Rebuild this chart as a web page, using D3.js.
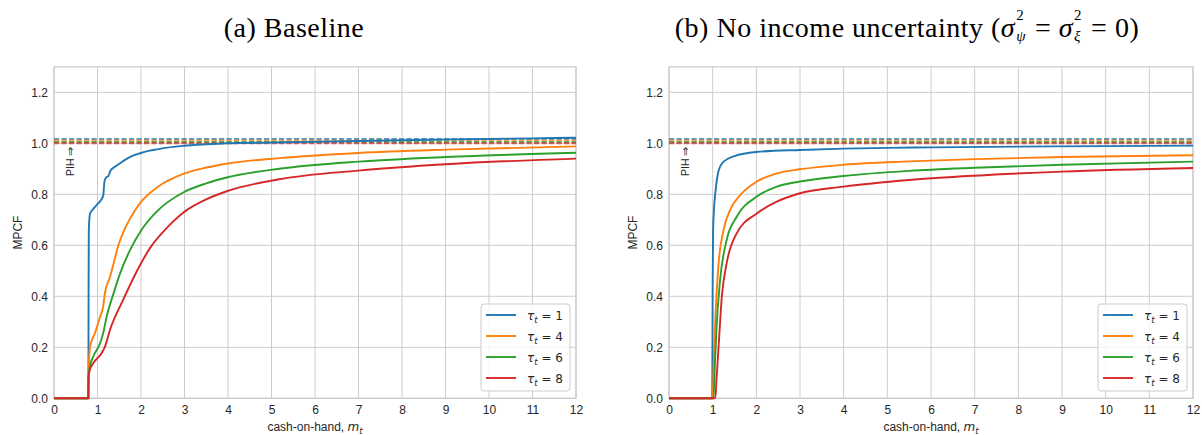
<!DOCTYPE html>
<html>
<head>
<meta charset="utf-8">
<script src="https://cdn.jsdelivr.net/npm/d3@7"></script>
<style>
  html, body { margin: 0; padding: 0; background: #fff; }
  svg { display: block; }
</style>
</head>
<body>
<svg id="chart" width="1202" height="435"></svg>
<script>
// Marginal propensity to consume out of cash-on-hand, [m, MPCF] pairs per horizon
const baseTau1 = [[0,0],[0.79,0],[0.795,0.40],[0.80,0.66],[0.83,0.725],[0.9,0.742],[1.0,0.762],[1.13,0.793],[1.16,0.85],[1.19,0.864],[1.25,0.872],[1.30,0.893],[1.4,0.908],[1.52,0.922],[1.67,0.939],[1.8,0.951],[1.98,0.961],[2.2,0.971],[2.36,0.976],[2.6,0.983],[2.97,0.99],[3.5,0.996],[3.97,1.0],[5,1.003],[6,1.006],[7,1.009],[8,1.012],[9,1.0145],[10,1.017],[11,1.0195],[12,1.022]];
const baseTau4 = [[0,0],[0.79,0],[0.793,0.09],[0.81,0.17],[0.83,0.203],[0.94,0.255],[1.06,0.32],[1.13,0.359],[1.17,0.412],[1.29,0.477],[1.37,0.529],[1.48,0.600],[1.60,0.655],[1.75,0.705],[2.0,0.77],[2.36,0.826],[2.97,0.880],[3.5,0.905],[4.0,0.921],[5.18,0.942],[7,0.962],[9,0.975],[12,0.988]];
const baseTau6 = [[0,0],[0.79,0],[0.793,0.085],[0.82,0.12],[0.90,0.163],[1.06,0.216],[1.13,0.255],[1.21,0.32],[1.37,0.412],[1.52,0.49],[1.75,0.582],[2.01,0.66],[2.36,0.732],[2.97,0.807],[3.5,0.843],[3.97,0.866],[5.18,0.90],[7,0.928],[9,0.946],[12,0.963]];
const baseTau8 = [[0,0],[0.79,0],[0.793,0.08],[0.82,0.11],[0.90,0.137],[1.09,0.176],[1.17,0.202],[1.29,0.27],[1.60,0.39],[1.91,0.50],[2.21,0.59],[2.52,0.655],[2.97,0.728],[3.5,0.78],[3.97,0.812],[5.18,0.859],[7,0.893],[9,0.918],[12,0.940]];

const noUncTau1 = [[0,0],[0.99,0],[1.0,0.45],[1.01,0.66],[1.03,0.74],[1.06,0.804],[1.1,0.86],[1.14,0.895],[1.25,0.928],[1.5,0.950],[2.0,0.966],[3.0,0.974],[4,0.979],[5,0.982],[6,0.984],[8,0.987],[10,0.989],[12,0.991]];
const noUncTau4 = [[0,0],[1.0,0],[1.02,0.12],[1.06,0.307],[1.136,0.529],[1.25,0.660],[1.40,0.739],[1.63,0.797],[2.01,0.850],[2.47,0.882],[3.0,0.898],[4.0,0.916],[5.5,0.929],[7,0.938],[9,0.946],[12,0.953]];
const noUncTau6 = [[0,0],[1.02,0],[1.05,0.13],[1.09,0.281],[1.17,0.464],[1.32,0.621],[1.55,0.712],[2.01,0.791],[2.47,0.830],[3.0,0.850],[4.0,0.872],[5.5,0.892],[7,0.904],[9,0.916],[12,0.928]];
const noUncTau8 = [[0,0],[1.06,0],[1.09,0.08],[1.136,0.203],[1.21,0.399],[1.32,0.529],[1.55,0.647],[2.01,0.725],[2.47,0.771],[3.0,0.804],[4.0,0.830],[5.5,0.856],[7,0.873],[9,0.889],[12,0.903]];

// Perfect-foresight (PIH) MPC levels, one per horizon
const pihLevels = [1.017, 1.011, 1.005, 1.0];
const tauValues = [1, 4, 6, 8];
const seriesColors = ["#1f77b4", "#ff7f0e", "#2ca02c", "#d62728"];
const xTicks = [0,1,2,3,4,5,6,7,8,9,10,11,12];
const yTicks = [0.0, 0.2, 0.4, 0.6, 0.8, 1.0, 1.2];
const pihLabel = { m: 0.45, mpc: 0.872, text: "PIH \u21D2" };

const svg = d3.select("#chart");
const sans = "'Liberation Sans', Arial, sans-serif";
const mathSans = "'DejaVu Sans', sans-serif";
const serif = "'Liberation Serif', 'Times New Roman', serif";

const panels = [
  { id: "a", left: 54, right: 576, series: [baseTau1, baseTau4, baseTau6, baseTau8],
    title: [{ t: "(a) Baseline" }] },
  { id: "b", left: 669, right: 1193, series: [noUncTau1, noUncTau4, noUncTau6, noUncTau8],
    title: [
      { t: "(b) No income uncertainty (" },
      { t: "\u03C3", it: true },
      { sup: "2", sub: "\u03C8" },
      { t: " = " },
      { t: "\u03C3", it: true },
      { sup: "2", sub: "\u03BE" },
      { t: " = 0)" }
    ] }
];
const plotTop = 66.8, plotBottom = 398.3;

// Lay out a row of text pieces (with stacked super/subscripts) centred at cx
function drawTitle(cx, baseline, pieces) {
  const g = svg.append("g");
  let cursor = 0;
  const mainSize = 28, scriptSize = 15, spacing = 0.5;
  pieces.forEach(p => {
    if (p.t !== undefined) {
      const el = g.append("text").attr("x", cursor).attr("y", baseline)
        .attr("font-family", serif).attr("font-size", mainSize)
        .attr("letter-spacing", spacing)
        .attr("font-style", p.it ? "italic" : "normal")
        .attr("fill", "#000").style("white-space", "pre").text(p.t);
      cursor += el.node().getComputedTextLength();
    } else {
      const s1 = g.append("text").attr("x", cursor + 1).attr("y", baseline - 17)
        .attr("font-family", serif).attr("font-size", scriptSize).attr("fill", "#000").text(p.sup);
      const s2 = g.append("text").attr("x", cursor + 1).attr("y", baseline + 4)
        .attr("font-family", serif).attr("font-size", scriptSize).attr("font-style", "italic")
        .attr("fill", "#000").text(p.sub);
      cursor += Math.max(s1.node().getComputedTextLength(), s2.node().getComputedTextLength()) + 3;
    }
  });
  g.attr("transform", `translate(${cx - cursor / 2},0)`);
}

panels.forEach((p, pi) => {
  const x = d3.scaleLinear().domain([0, 12]).range([p.left, p.right]);
  const y = d3.scaleLinear().domain([0, 1.3]).range([plotBottom, plotTop]);
  const g = svg.append("g");

  // Grid
  g.append("g").selectAll("line").data(xTicks).join("line")
    .attr("x1", d => x(d)).attr("x2", d => x(d)).attr("y1", plotTop).attr("y2", plotBottom)
    .attr("stroke", "#cccccc").attr("stroke-width", 1);
  g.append("g").selectAll("line").data(yTicks).join("line")
    .attr("x1", p.left).attr("x2", p.right).attr("y1", d => y(d)).attr("y2", d => y(d))
    .attr("stroke", "#cccccc").attr("stroke-width", 1);
  // Frame
  g.append("rect").attr("x", p.left).attr("y", plotTop)
    .attr("width", p.right - p.left).attr("height", plotBottom - plotTop)
    .attr("fill", "none").attr("stroke", "#cccccc").attr("stroke-width", 1.25);

  // Axes (tick labels only, seaborn whitegrid style)
  const xAxis = d3.axisBottom(x).tickValues(xTicks).tickSize(0).tickPadding(7).tickFormat(d3.format("d"));
  const ax = g.append("g").attr("transform", `translate(0,${plotBottom})`).call(xAxis);
  const yAxis = d3.axisLeft(y).tickValues(yTicks).tickSize(0).tickPadding(6).tickFormat(d3.format(".1f"));
  const ay = g.append("g").attr("transform", `translate(${p.left},0)`).call(yAxis);
  [ax, ay].forEach(a => {
    a.select(".domain").remove();
    a.selectAll("text").attr("font-family", sans).attr("font-size", 12).attr("fill", "#262626");
  });

  // Axis labels
  g.append("text").attr("transform", `translate(${p.left - 32},${(plotTop + plotBottom) / 2}) rotate(-90)`)
    .attr("text-anchor", "middle").attr("font-family", sans).attr("font-size", 12)
    .attr("fill", "#262626").text("MPCF");
  const xl = g.append("text").attr("x", (p.left + p.right) / 2).attr("y", 431)
    .attr("text-anchor", "middle").attr("font-family", sans).attr("font-size", 12).attr("fill", "#262626");
  xl.append("tspan").style("white-space", "pre").text("cash-on-hand, ");
  xl.append("tspan").attr("font-family", mathSans).attr("font-style", "italic").text("m");
  xl.append("tspan").attr("font-family", mathSans).attr("font-style", "italic")
    .attr("font-size", 8.5).attr("dy", 3).text("t");

  // Clip region for curves
  const clipId = "clip-" + p.id;
  svg.append("clipPath").attr("id", clipId).append("rect")
    .attr("x", p.left).attr("y", plotTop).attr("width", p.right - p.left).attr("height", plotBottom - plotTop + 2);
  const plot = g.append("g").attr("clip-path", `url(#${clipId})`);

  const line = d3.line().x(d => x(d[0])).y(d => y(d[1])).curve(d3.curveMonotoneX);

  // Dashed PIH reference levels
  plot.selectAll("line.pih").data(pihLevels).join("line").attr("class", "pih")
    .attr("x1", x(0)).attr("x2", x(12)).attr("y1", d => y(d)).attr("y2", d => y(d))
    .attr("stroke", (d, i) => seriesColors[i]).attr("stroke-opacity", 0.75)
    .attr("stroke-width", 1.9).attr("stroke-dasharray", "5.2,2.3");

  // Consumption-function MPC curves
  plot.selectAll("path.mpc").data(p.series).join("path").attr("class", "mpc")
    .attr("d", line).attr("fill", "none")
    .attr("stroke", (d, i) => seriesColors[i]).attr("stroke-width", 1.9)
    .attr("stroke-linejoin", "round");

  // PIH annotation
  g.append("text").attr("transform", `translate(${x(pihLabel.m)},${y(pihLabel.mpc)}) rotate(-90)`)
    .attr("font-family", sans).attr("font-size", 10.5).attr("fill", "#262626").text(pihLabel.text);

  // Legend
  const lx = p.right - 95, ly = 304;
  const lg = g.append("g").attr("transform", `translate(${lx},${ly})`);
  lg.append("rect").attr("width", 89).attr("height", 87).attr("rx", 3)
    .attr("fill", "#fff").attr("fill-opacity", 0.8).attr("stroke", "#cccccc").attr("stroke-width", 1);
  tauValues.forEach((tau, i) => {
    const ry = 11 + i * 21;
    lg.append("line").attr("x1", 5).attr("x2", 35).attr("y1", ry).attr("y2", ry)
      .attr("stroke", seriesColors[i]).attr("stroke-width", 1.9);
    const t = lg.append("text").attr("x", 46).attr("y", ry + 4.5)
      .attr("font-family", mathSans).attr("font-size", 12).attr("fill", "#262626");
    t.append("tspan").attr("font-style", "italic").text("\u03C4");
    t.append("tspan").attr("font-style", "italic").attr("font-size", 8.5).attr("dy", 3).text("t");
    t.append("tspan").attr("dy", -3).style("white-space", "pre").text(" = " + tau);
  });

  drawTitle(pi === 0 ? 294 : 907, 36.5, p.title);
});
</script>
</body>
</html>
